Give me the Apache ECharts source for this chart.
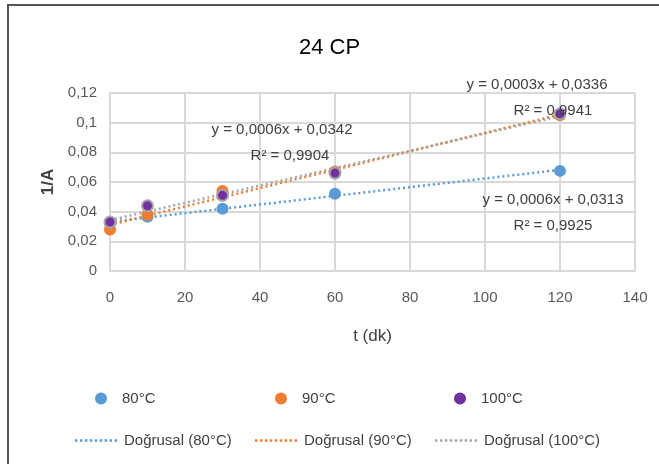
<!DOCTYPE html>
<html>
<head>
<meta charset="utf-8">
<script src="https://cdn.jsdelivr.net/npm/echarts@6/dist/echarts.min.js"></script>
<style>
  html, body { margin: 0; padding: 0; background: #fff; }
  #chart { width: 659px; height: 464px; }
</style>
</head>
<body>
<div id="chart"></div>
<script>
/* ---------- data ---------- */
const times   = [0, 10, 30, 60, 120];
const vals80  = [0.032, 0.0365, 0.042, 0.052, 0.0675];
const vals90  = [0.028, 0.038, 0.054, 0.067, 0.105];
const vals100 = [0.033, 0.044, 0.051, 0.066, 0.106];
const names   = ["80°C", "90°C", "100°C"];
const eqLabels = [
  "y = 0,0006x + 0,0342", "R² = 0,9904",
  "y = 0,0003x + 0,0336", "R² = 0,9941",
  "y = 0,0006x + 0,0313", "R² = 0,9925"
];

const FONT = "'Liberation Sans Narrow', 'Liberation Sans', sans-serif";
const colors = ["#5B9BD5", "#ED7D31", "#7030A0"];
const lineColors = ["#5B9BD5", "#ED7D31", "#A5A5A5"];

/* least squares fit -> endpoints of trendline */
function trend(ys) {
  const n = times.length;
  let sx = 0, sy = 0, sxx = 0, sxy = 0;
  for (let i = 0; i < n; i++) {
    sx += times[i]; sy += ys[i];
    sxx += times[i] * times[i]; sxy += times[i] * ys[i];
  }
  const b = (n * sxy - sx * sy) / (n * sxx - sx * sx);
  const a = (sy - b * sx) / n;
  const x0 = times[0], x1 = times[n - 1];
  return [[x0, a + b * x0], [x1, a + b * x1]];
}

const allVals = [vals80, vals90, vals100];
const series = [];

allVals.forEach((v, i) => {
  series.push({
    name: "Doğrusal (" + names[i] + ")",
    type: "line",
    data: trend(v),
    symbol: "none",
    z: 2,
    lineStyle: { color: lineColors[i], width: 2.5, type: [2, 3] },
    itemStyle: { color: lineColors[i] },
    silent: true
  });
});

allVals.forEach((v, i) => {
  series.push({
    name: names[i],
    type: "scatter",
    data: times.map((t, j) => [t, v[j]]),
    symbolSize: i === 2 ? 11 : 12,
    z: 3,
    itemStyle: i === 2
      ? { color: colors[i], borderColor: "#A5A5A5", borderWidth: 2, opacity: 1 }
      : { color: colors[i], opacity: 1 }
  });
});

/* dotted-line legend icon */
let dots = "path://";
for (let k = 0; k < 9; k++) dots += "M" + (k * 5) + ",0h2.5v2.5h-2.5z";

/* one legend per item so spacing matches */
const legendPos = [
  { name: names[0], left: 90, top: 386 },
  { name: names[1], left: 270, top: 386 },
  { name: names[2], left: 449, top: 386 },
  { name: "Doğrusal (80°C)", left: 70, top: 428 },
  { name: "Doğrusal (90°C)", left: 250, top: 428 },
  { name: "Doğrusal (100°C)", left: 430, top: 428 }
];
const legends = legendPos.map((l, i) => ({
  data: [{
    name: l.name,
    icon: i < 3 ? "circle" : dots,
    itemStyle: i < 3
      ? { color: colors[i], borderWidth: 0 }
      : { color: lineColors[i - 3], borderWidth: 0 }
  }],
  left: l.left,
  top: l.top,
  itemWidth: i < 3 ? 12 : 42,
  itemHeight: i < 3 ? 12 : 2.5,
  itemGap: 6,
  selectedMode: false,
  textStyle: {
    fontFamily: FONT, fontSize: 15, color: "#404040",
    padding: [0, 0, 0, i < 3 ? 10 : 2]
  }
}));

const eqPos = [
  [282, 130], [290, 156],
  [537, 85], [553, 111],
  [553, 200], [553, 226]
];

const chart = echarts.init(document.getElementById("chart"));
chart.setOption({
  animation: false,
  backgroundColor: "#fff",
  title: {
    text: "24 CP",
    left: "center",
    top: 32,
    textStyle: { fontFamily: FONT, fontSize: 22, fontWeight: "normal", color: "#000" }
  },
  legend: legends,
  grid: { left: 110, right: 24, top: 93, bottom: 193 },
  xAxis: {
    type: "value",
    min: 0, max: 140, interval: 20,
    name: "t (dk)",
    nameLocation: "middle",
    nameGap: 57,
    nameTextStyle: { fontFamily: FONT, fontSize: 17, color: "#404040" },
    axisLine: { show: true, lineStyle: { color: "#D9D9D9", width: 2 } },
    axisTick: { show: false },
    axisLabel: { fontFamily: FONT, fontSize: 15, color: "#595959", margin: 19 },
    splitLine: { show: true, lineStyle: { color: "#D9D9D9", width: 2 } }
  },
  yAxis: {
    type: "value",
    min: 0, max: 0.12, interval: 0.02,
    name: "1/A",
    nameLocation: "middle",
    nameGap: 42,
    nameRotate: 90,
    nameTextStyle: { fontFamily: FONT, fontSize: 17, fontWeight: "bold", color: "#404040" },
    axisLine: { show: true, lineStyle: { color: "#D9D9D9", width: 2 } },
    axisTick: { show: false },
    axisLabel: {
      fontFamily: FONT, fontSize: 15, color: "#595959", margin: 13,
      formatter: v => String(+v.toFixed(2)).replace(".", ",")
    },
    splitLine: { show: true, lineStyle: { color: "#D9D9D9", width: 2 } }
  },
  graphic: [
    {
      type: "rect",
      shape: { x: 8, y: 5, width: 700, height: 600 },
      style: { fill: "none", stroke: "#555", lineWidth: 2 },
      silent: true
    }
  ].concat(eqLabels.map((t, i) => ({
    type: "text",
    x: eqPos[i][0],
    y: eqPos[i][1],
    z: 10,
    style: {
      text: t,
      fill: "#404040",
      font: "15px " + FONT,
      align: "center",
      verticalAlign: "middle"
    }
  }))),
  series: series
});
</script>
</body>
</html>
